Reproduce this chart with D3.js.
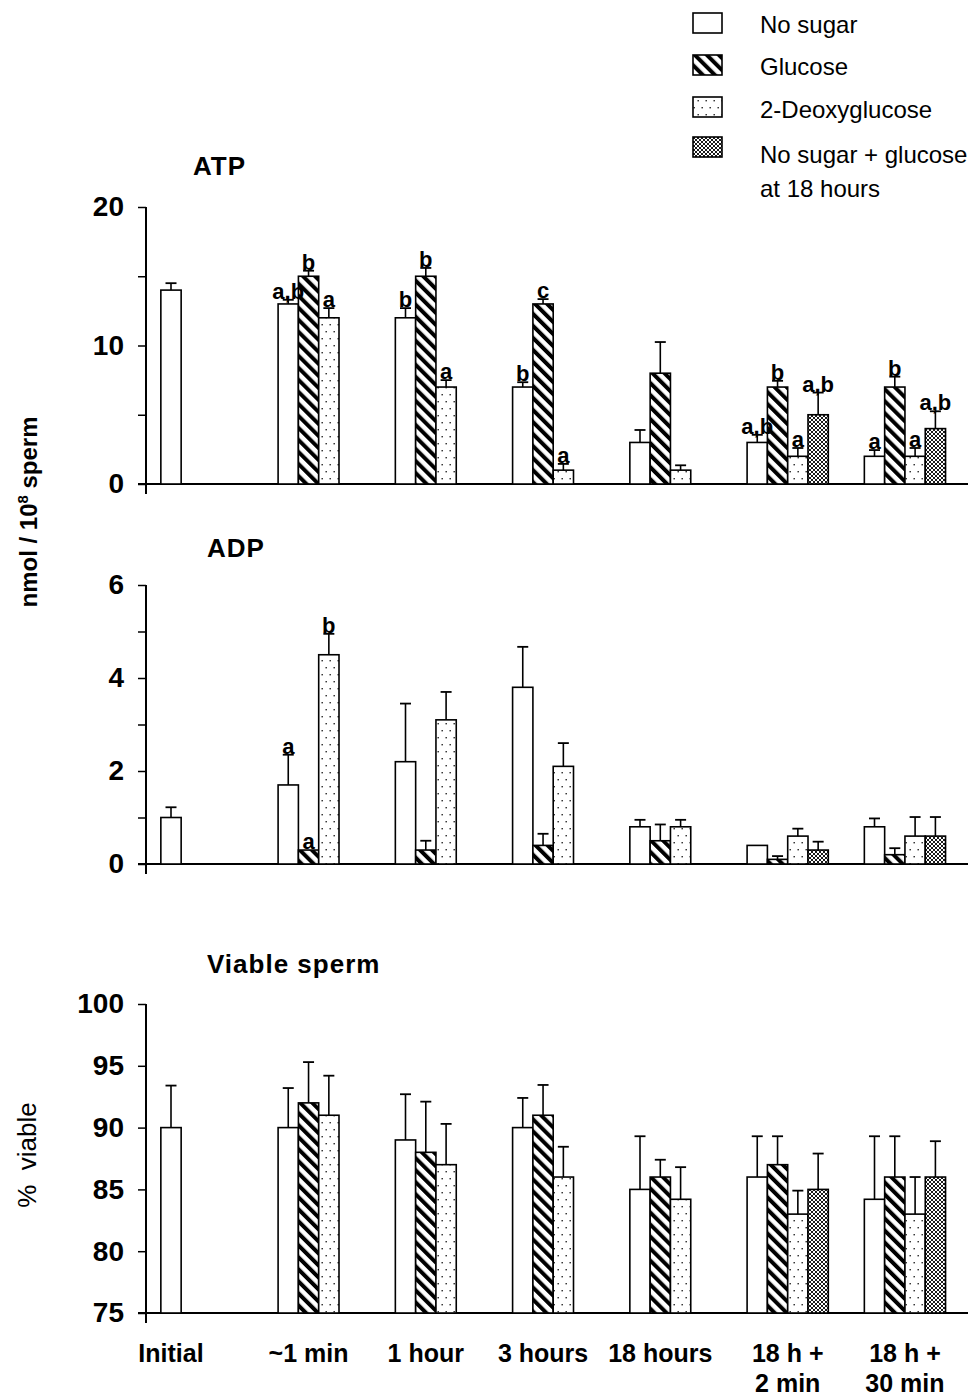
<!DOCTYPE html>
<html><head><meta charset="utf-8">
<script src="https://cdn.jsdelivr.net/npm/d3@7"></script>
<style>
body{margin:0;background:#fff}
svg{display:block}
text{font-family:"Liberation Sans",Arial,Helvetica,sans-serif;fill:#000}
</style>
</head><body>
<script>
// Sampling times
const categories = ["Initial","~1 min","1 hour","3 hours","18 hours","18 h + 2 min","18 h + 30 min"];
const catLine1 = ["Initial","~1 min","1 hour","3 hours","18 hours","18 h +","18 h +"];
const catLine2 = ["","","","","","2 min","30 min"];

// Treatments
const seriesNames = ["No sugar","Glucose","2-Deoxyglucose","No sugar + glucose at 18 hours"];
const legendLines = [["No sugar"],["Glucose"],["2-Deoxyglucose"],["No sugar + glucose","at 18 hours"]];

// ATP (nmol / 10^8 sperm)
const atpNoSugar   = [14, 13, 12, 7, 3, 3, 2];
const atpGlucose   = [null, 15, 15, 13, 8, 7, 7];
const atpDeoxy     = [null, 12, 7, 1, 1, 2, 2];
const atpLateGlc   = [null, null, null, null, null, 5, 4];
const atpNoSugarErr = [0.5, 0.3, 0.7, 0.35, 0.9, 0.55, 0.45];
const atpGlucoseErr = [null, 0.4, 0.6, 0.35, 2.25, 0.45, 0.75];
const atpDeoxyErr   = [null, 0.7, 0.5, 0.45, 0.35, 0.6, 0.6];
const atpLateGlcErr = [null, null, null, null, null, 1.6, 1.25];
const atpNoSugarSig = ["", "a,b", "b", "b", "", "a,b", "a"];
const atpGlucoseSig = ["", "b", "b", "c", "", "b", "b"];
const atpDeoxySig   = ["", "a", "a", "a", "", "a", "a"];
const atpLateGlcSig = ["", "", "", "", "", "a,b", "a,b"];

// ADP (nmol / 10^8 sperm)
const adpNoSugar   = [1.0, 1.7, 2.2, 3.8, 0.8, 0.4, 0.8];
const adpGlucose   = [null, 0.3, 0.3, 0.4, 0.5, 0.1, 0.2];
const adpDeoxy     = [null, 4.5, 3.1, 2.1, 0.8, 0.6, 0.6];
const adpLateGlc   = [null, null, null, null, null, 0.3, 0.6];
const adpNoSugarErr = [0.22, 0.65, 1.25, 0.87, 0.15, 0, 0.18];
const adpGlucoseErr = [null, 0, 0.2, 0.25, 0.35, 0.07, 0.14];
const adpDeoxyErr   = [null, 0.45, 0.6, 0.5, 0.15, 0.16, 0.41];
const adpLateGlcErr = [null, null, null, null, null, 0.18, 0.41];
const adpNoSugarSig = ["", "a", "", "", "", "", ""];
const adpGlucoseSig = ["", "a", "", "", "", "", ""];
const adpDeoxySig   = ["", "b", "", "", "", "", ""];
const adpLateGlcSig = ["", "", "", "", "", "", ""];

// Viable sperm (%)
const viaNoSugar   = [90, 90, 89, 90, 85, 86, 84.2];
const viaGlucose   = [null, 92, 88, 91, 86, 87, 86];
const viaDeoxy     = [null, 91, 87, 86, 84.2, 83, 83];
const viaLateGlc   = [null, null, null, null, null, 85, 86];
const viaNoSugarErr = [3.4, 3.2, 3.7, 2.4, 4.3, 3.3, 5.1];
const viaGlucoseErr = [null, 3.3, 4.1, 2.45, 1.4, 2.3, 3.3];
const viaDeoxyErr   = [null, 3.2, 3.3, 2.45, 2.6, 1.9, 3.0];
const viaLateGlcErr = [null, null, null, null, null, 2.9, 2.9];

// Axis ticks
const atpTicks = [0, 5, 10, 15, 20];
const atpTickLabels = [0, 10, 20];
const adpTicks = [0, 1, 2, 3, 4, 5, 6];
const adpTickLabels = [0, 2, 4, 6];
const viaTicks = [75, 80, 85, 90, 95, 100];
const viaTickLabels = [75, 80, 85, 90, 95, 100];

const W = 970, H = 1397;
const svg = d3.select("body").append("svg").attr("width", W).attr("height", H);

// Fill patterns: plain, diagonal stripes, sparse dots, fine cross-hatch
const defs = svg.append("defs");
const fills = ["url(#pNone)", "url(#pStripe)", "url(#pDots)", "url(#pCross)"];
const pNone = defs.append("pattern").attr("id","pNone").attr("patternUnits","userSpaceOnUse").attr("width",4).attr("height",4);
pNone.append("rect").attr("width",4).attr("height",4).attr("fill","#fff");
const pStripe = defs.append("pattern").attr("id","pStripe").attr("patternUnits","userSpaceOnUse")
  .attr("width",8.5).attr("height",8.5).attr("patternTransform","rotate(-45)");
pStripe.append("rect").attr("width",8.5).attr("height",8.5).attr("fill","#fff");
pStripe.append("rect").attr("width",4).attr("height",8.5).attr("fill","#000");
const pDots = defs.append("pattern").attr("id","pDots").attr("patternUnits","userSpaceOnUse").attr("width",8).attr("height",14);
pDots.append("rect").attr("width",8).attr("height",14).attr("fill","#fff");
pDots.append("rect").attr("x",1.5).attr("y",2).attr("width",1.4).attr("height",1.4).attr("fill","#222");
pDots.append("rect").attr("x",5.5).attr("y",9).attr("width",1.4).attr("height",1.4).attr("fill","#222");
const pCross = defs.append("pattern").attr("id","pCross").attr("patternUnits","userSpaceOnUse").attr("width",4).attr("height",4);
pCross.append("rect").attr("width",4).attr("height",4).attr("fill","#fff");
pCross.append("path").attr("d","M0,0L4,4M4,0L0,4M-1,1L1,-1M3,5L5,3M-1,3L1,5M3,-1L5,1").attr("stroke","#000").attr("stroke-width",0.9);

// Horizontal layout shared by all panels
const axisX = 146;
const x = d3.scaleBand().domain(categories).range([160.85, 160.85 + 7 * 117.25]);
const barW = 20.3;

function groupSeries(vals, ci) {
  return vals.map((v, si) => v[ci] == null ? null : si).filter(s => s != null);
}

function drawPanel(p) {
  const y = d3.scaleLinear().domain(p.domain).range(p.range);
  const g = svg.append("g");
  const base = y(p.domain[0]);

  // y axis
  const ax = g.append("g").attr("transform", `translate(${axisX},0)`)
    .call(d3.axisLeft(y).tickValues(p.ticks).tickSize(8).tickPadding(14)
      .tickFormat(d => p.tickLabels.includes(d) ? d : ""));
  ax.select(".domain").remove();
  ax.selectAll(".tick line").attr("stroke","#000").attr("stroke-width",1.5);
  ax.selectAll(".tick text").attr("font-size",28).attr("font-weight","bold").attr("fill","#000")
    .attr("font-family",'"Liberation Sans",Arial,sans-serif');
  g.append("line").attr("x1",axisX).attr("x2",axisX).attr("y1",p.range[1]).attr("y2",base+10)
    .attr("stroke","#000").attr("stroke-width",2);
  // baseline
  g.append("line").attr("x1",axisX-8).attr("x2",W-2).attr("y1",base).attr("y2",base)
    .attr("stroke","#000").attr("stroke-width",2);

  // title
  g.append("text").attr("x",p.titleX).attr("y",p.titleY).attr("font-size",26).attr("font-weight","bold")
    .attr("letter-spacing",1).text(p.title);

  const bars = [];
  categories.forEach((c, ci) => {
    const present = groupSeries(p.values, ci);
    const inner = d3.scaleBand().domain(present).range([0, present.length * barW]);
    present.forEach(si => {
      bars.push({ci, si, x0: x(c) + inner(si), w: inner.bandwidth(),
        v: p.values[si][ci], e: p.errors[si][ci], s: p.sig ? p.sig[si][ci] : ""});
    });
  });

  g.selectAll("rect.bar").data(bars).join("rect").attr("class","bar")
    .attr("x", d => d.x0).attr("width", d => d.w)
    .attr("y", d => y(d.v)).attr("height", d => base - y(d.v))
    .attr("fill", d => fills[d.si]).attr("stroke","#000").attr("stroke-width",1.6);

  const eb = bars.filter(d => d.e);
  g.selectAll("line.err").data(eb).join("line").attr("class","err")
    .attr("x1", d => d.x0 + d.w/2).attr("x2", d => d.x0 + d.w/2)
    .attr("y1", d => y(d.v)).attr("y2", d => y(d.v + d.e))
    .attr("stroke","#000").attr("stroke-width",1.6);
  g.selectAll("line.cap").data(eb).join("line").attr("class","cap")
    .attr("x1", d => d.x0 + d.w/2 - 5.5).attr("x2", d => d.x0 + d.w/2 + 5.5)
    .attr("y1", d => y(d.v + d.e)).attr("y2", d => y(d.v + d.e))
    .attr("stroke","#000").attr("stroke-width",1.8);

  g.selectAll("text.sig").data(bars.filter(d => d.s)).join("text").attr("class","sig")
    .attr("x", d => d.x0 + d.w/2).attr("y", d => y(d.v + (d.e || 0)) - 1)
    .attr("text-anchor","middle").attr("font-size",22).attr("font-weight","bold")
    .text(d => d.s);
  return y;
}

drawPanel({title:"ATP", titleX:193, titleY:175, domain:[0,20], range:[484,207],
  ticks:atpTicks, tickLabels:atpTickLabels,
  values:[atpNoSugar, atpGlucose, atpDeoxy, atpLateGlc],
  errors:[atpNoSugarErr, atpGlucoseErr, atpDeoxyErr, atpLateGlcErr],
  sig:[atpNoSugarSig, atpGlucoseSig, atpDeoxySig, atpLateGlcSig]});

drawPanel({title:"ADP", titleX:207, titleY:557, domain:[0,6], range:[864,585],
  ticks:adpTicks, tickLabels:adpTickLabels,
  values:[adpNoSugar, adpGlucose, adpDeoxy, adpLateGlc],
  errors:[adpNoSugarErr, adpGlucoseErr, adpDeoxyErr, adpLateGlcErr],
  sig:[adpNoSugarSig, adpGlucoseSig, adpDeoxySig, adpLateGlcSig]});

drawPanel({title:"Viable sperm", titleX:207, titleY:973, domain:[75,100], range:[1313,1004],
  ticks:viaTicks, tickLabels:viaTickLabels,
  values:[viaNoSugar, viaGlucose, viaDeoxy, viaLateGlc],
  errors:[viaNoSugarErr, viaGlucoseErr, viaDeoxyErr, viaLateGlcErr],
  sig:null});

// Category labels under the bottom panel
const labG = svg.append("g");
categories.forEach((c, ci) => {
  const n = [viaNoSugar, viaGlucose, viaDeoxy, viaLateGlc].filter(a => a[ci] != null).length;
  const cx = x(c) + n * barW / 2;
  const t = labG.append("text").attr("x", cx).attr("y", 1362).attr("text-anchor","middle")
    .attr("font-size",25).attr("font-weight","bold");
  t.append("tspan").attr("x", cx).text(catLine1[ci]);
  if (catLine2[ci]) t.append("tspan").attr("x", cx).attr("dy", 30).text(catLine2[ci]);
});

// Y axis titles
const yt1 = svg.append("text").attr("transform","translate(37,512) rotate(-90)")
  .attr("text-anchor","middle").attr("font-size",24).attr("font-weight","bold");
yt1.append("tspan").text("nmol / 10");
yt1.append("tspan").attr("font-size",15).attr("dy",-9).text("8");
yt1.append("tspan").attr("dy",9).text(" sperm");
svg.append("text").attr("transform","translate(36,1155) rotate(-90)")
  .attr("text-anchor","middle").attr("font-size",26).text("%\u00a0\u00a0viable");

// Legend
const leg = svg.append("g");
const boxY = [13, 55, 97, 137];
const textY = [33, 75, 118, 163];
seriesNames.forEach((s, i) => {
  leg.append("rect").attr("x",693).attr("y",boxY[i]).attr("width",29).attr("height",20)
    .attr("fill",fills[i]).attr("stroke","#000").attr("stroke-width",1.6);
  const t = leg.append("text").attr("x",760).attr("y",textY[i]).attr("font-size",24);
  legendLines[i].forEach((ln, k) => t.append("tspan").attr("x",760).attr("dy", k ? 34 : 0).text(ln));
});
</script>
</body></html>
